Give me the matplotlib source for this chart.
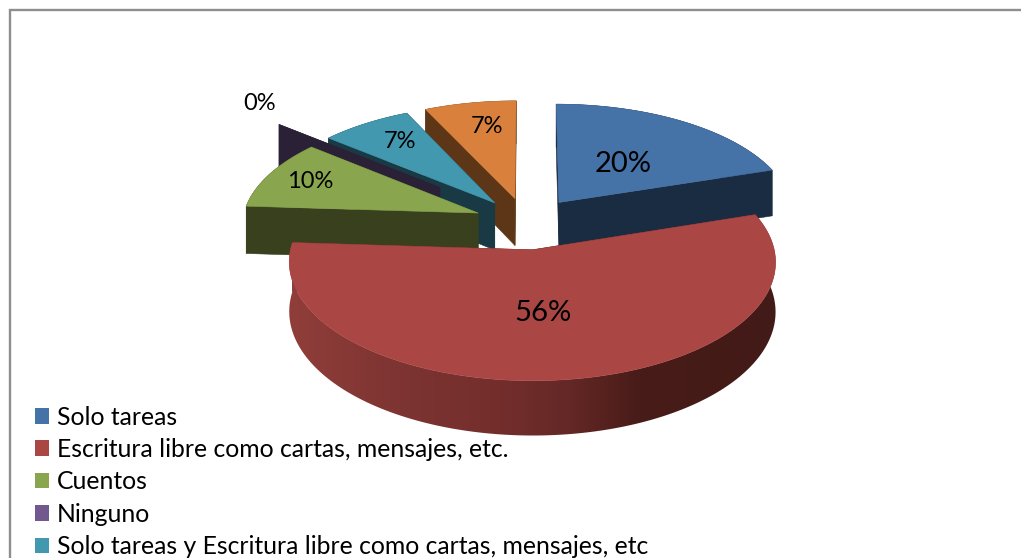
import numpy as np
import matplotlib
matplotlib.use("Agg")
import matplotlib.pyplot as plt
from matplotlib.patches import Patch, Polygon

categories = ["Solo tareas", "Escritura libre como cartas, mensajes, etc.", "Cuentos", "Ninguno",
              "Solo tareas y Escritura libre como cartas, mensajes, etc", "Otros"]
values = [20, 56, 10, 0, 7, 7]
explode = [0.22, 0.245, 0.22, 0.50, 0.22, 0.22]
wedge_dx = [1, -3, -2, 0, -2, -2]
top_colors = ["#4572A7", "#AA4643", "#89A54E", "#71588F", "#4198AF", "#D9813C"]
side_colors = ["#1A2C42", "#4A1C18", "#38401E", "#2B2137", "#193A44", "#5C3617"]
label_r = [0.5, 0.5, 0.78, 1.1, 0.7, 0.75]
label_size = [21, 21, 17, 17, 17, 17]
label_dx = [0, -6, -4, -4, -2, 6]
label_dy = [4, 2, -1, -15, -5, 1]
draw_order = [5, 4, 3, 2, 0, 1]
legend_rows = 5

CX, CY, RX, RY, K, H = 528, 222, 236, 111.8, 0.10, 48


def project(x, y, z=0.0):
    s = 1 / (1 + K * y)
    return CX + RX * x * s, CY - RY * y * s + z * H * s


def offset(i, mid):
    return explode[i] * np.sin(mid) + wedge_dx[i] / RX, explode[i] * np.cos(mid)


plt.rcParams["font.family"] = ["Lato", "DejaVu Sans"]
fig = plt.figure(figsize=(10.21, 5.58), dpi=100)
ax = fig.add_axes([0, 0, 1, 1])

ax.plot([9.5, 9.5, 1021], [558, 10, 10], color="#8E8E8E", lw=1.7, solid_joinstyle="miter", zorder=1)

total = sum(values)
edges = np.concatenate([[0], np.cumsum(values)]) / total * 2 * np.pi

stops_x = [285, 400, 500, 570, 600, 640, 780]
stops_rgb = np.array([(145, 62, 58), (125, 52, 50), (115, 46, 44), (100, 40, 38),
                      (88, 34, 31), (72, 28, 25), (66, 26, 23)]) / 255
grad_x = np.linspace(285, 780, 496)
gradient = np.column_stack([np.interp(grad_x, stops_x, stops_rgb[:, c]) for c in range(3)])

z = 2
for i in draw_order:
    a0, a1 = edges[i], edges[i + 1]
    mid = (a0 + a1) / 2
    ox, oy = offset(i, mid)
    th = np.linspace(a0, a1, max(int(np.degrees(a1 - a0)), 2))
    wx, wy = ox + np.sin(th), oy + np.cos(th)

    # radial side faces
    for a in (a0, a1):
        ex, ey = ox + np.sin(a), oy + np.cos(a)
        quad = [project(ox, oy), project(ex, ey), project(ex, ey, 1), project(ox, oy, 1)]
        ax.fill(*zip(*quad), color=side_colors[i], lw=0.4, zorder=z)
    z += 1

    # outer rim
    up = np.column_stack(project(wx, wy))
    down = np.column_stack(project(wx, wy, 1))
    rim = np.vstack([up, down[::-1]])
    if i == 1:
        img = ax.imshow(gradient[np.newaxis, :, :], extent=(grad_x[0], grad_x[-1], 445, 200),
                        aspect="auto", interpolation="bilinear", zorder=z)
        clip = Polygon(rim, closed=True, transform=ax.transData, facecolor="none", edgecolor="none")
        ax.add_patch(clip)
        img.set_clip_path(clip)
    else:
        ax.add_patch(Polygon(rim, closed=True, facecolor=side_colors[i], edgecolor=side_colors[i], lw=0.4, zorder=z))
    z += 1

    # top face
    tx, ty = project(wx, wy)
    ax0, ay0 = project(ox, oy)
    if values[i] > 0:
        ax.fill(np.r_[ax0, tx], np.r_[ay0, ty], color=top_colors[i], lw=0.4, zorder=z)
    z += 1

for i in range(len(values)):
    mid = (edges[i] + edges[i + 1]) / 2
    ox, oy = offset(i, mid)
    lx, ly = project(ox + label_r[i] * np.sin(mid), oy + label_r[i] * np.cos(mid))
    ax.text(lx + label_dx[i], ly + label_dy[i], f"{values[i] / total * 100:.0f}%", ha="center", va="center",
            fontsize=label_size[i], color="black", zorder=100)

ax.set_xlim(0, 1021)
ax.set_ylim(558, 0)
ax.axis("off")

fs = 17.8
px = fs * 100 / 72
handles = [Patch(facecolor=top_colors[i], edgecolor="none") for i in range(legend_rows)]
ax.legend(handles, categories[:legend_rows], loc="lower left", bbox_to_anchor=(25 / 1021, -10 / 558),
          frameon=False, fontsize=fs, handlelength=14.5 / px, handleheight=14.5 / px,
          handletextpad=7.5 / px, labelspacing=0.38, borderpad=0.4, borderaxespad=0)

fig.savefig("out.png", dpi=100)
